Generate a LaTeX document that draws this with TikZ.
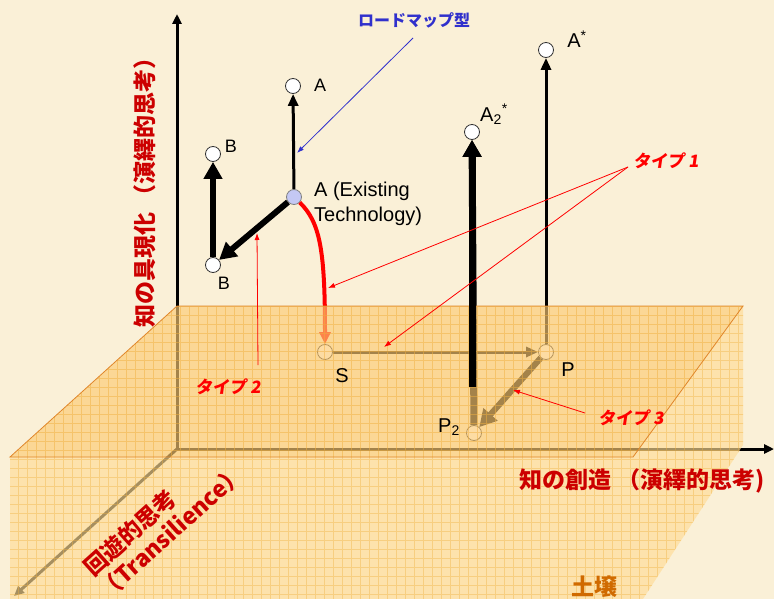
\documentclass[tikz,border=0pt]{standalone}
\usepackage{fontspec}
\setmainfont{Liberation Sans}
\newfontfamily\jp{Noto Sans CJK JP}
\newfontfamily\jpslant{Noto Sans CJK JP}[FakeSlant=0.15]
\usepackage{xcolor}
\usepackage{tikz}
\usetikzlibrary{arrows.meta}
\definecolor{cream}{HTML}{FAF0D7}
\definecolor{planefill}{HTML}{FDCA72}
\definecolor{soilfill}{HTML}{FFDC95}
\definecolor{gridline}{HTML}{F0B040}
\definecolor{edgeorange}{HTML}{E0862A}
\definecolor{labelred}{HTML}{CC0000}
\definecolor{typered}{HTML}{FF0000}
\definecolor{roadblue}{HTML}{3030CC}
\definecolor{soilorange}{HTML}{D06A00}
\definecolor{startblue}{HTML}{C4C8F4}

\begin{document}
\begin{tikzpicture}[x=1pt, y=-1pt,
        dot/.style={circle, draw=black!80, line width=0.8pt, fill=white,
            minimum size=15pt, inner sep=0pt},
        ptlabel/.style={font=\fontsize{18}{18}\selectfont, inner sep=1pt},
        biglabel/.style={font=\fontsize{20}{25}\selectfont, inner sep=1pt},
        axis/.style={line width=3pt, -{Triangle[length=10pt, width=9pt]}},
        move/.style={line width=3pt, -{Triangle[length=12pt, width=10pt]}},
        bigmove/.style={line width=6pt, -{Triangle[length=17pt, width=18pt]}},
        tag/.style={typered, line width=0.8pt, -{Latex[length=7pt, width=5pt]}},
        typelabel/.style={text=typered, font=\jpslant\bfseries\fontsize{17}{17}\selectfont},
        axislabel/.style={text=labelred, font=\jp\bfseries\fontsize{23}{27}\selectfont}]
        \useasboundingbox (0, 0) rectangle (774, 599);
        \fill[cream] (0, 0) rectangle (774, 599);

        \coordinate (o) at (177, 449);
        \coordinate (ytip) at (177, 14);
        \coordinate (xtip) at (774, 449);
        \coordinate (ztip) at (14, 596);
        \draw[axis] (o) -- (ytip);
        \draw[axis] (o) -- (xtip);
        \draw[axis] (o) -- (ztip);

        \node[dot] (atop) at (293, 86) {};
        \node[dot] (btop) at (213, 154) {};
        \node[dot] (bbot) at (213, 265) {};
        \node[dot, fill=startblue, draw=black!50] (aex) at (294, 197) {};
        \node[dot] (astar) at (546, 50) {};
        \node[dot] (a2star) at (472, 132) {};
        \node[dot] (s) at (325, 352) {};
        \node[dot] (p) at (546, 352) {};
        \node[dot] (p2) at (474, 433) {};

        \draw[move] (aex) -- (atop);
        \draw[bigmove] (aex) -- (bbot);
        \draw[bigmove] (bbot) -- (btop);
        \draw[typered, line width=4pt, -{Triangle[length=12pt, width=11pt]}] (aex) .. controls (320, 222) and (325, 250) .. (s);
        \draw[move] (s) -- (p);
        \draw[move] (p) -- (astar);
        \draw[bigmove] (p) -- (p2);
        \draw[bigmove, line width=7pt] (p2) -- (a2star);

        \fill[soilfill, fill opacity=0.65] (10, 457) -- (633, 457) -- (743, 306) -- (743, 445)
            -- (643, 599) -- (10, 599) -- cycle;
        \begin{scope}
            \clip (10, 457) -- (633, 457) -- (743, 306) -- (743, 445) -- (643, 599) -- (10, 599) -- cycle;
            \draw[gridline, opacity=0.4, line width=0.6pt, step=9pt] (0, 0) grid (774, 599);
        \end{scope}
        \fill[planefill, fill opacity=0.65] (177, 306) -- (743, 306) -- (633, 457) -- (10, 457) -- cycle;
        \begin{scope}
            \clip (177, 306) -- (743, 306) -- (633, 457) -- (10, 457) -- cycle;
            \draw[gridline, opacity=0.5, line width=0.6pt, step=9pt] (0, 0) grid (774, 599);
        \end{scope}
        \draw[edgeorange, line width=0.8pt] (177, 306) -- (743, 306) -- (633, 457) -- (10, 457) -- cycle;

        \coordinate (a2cut) at (472, 387);
        \draw[bigmove, line width=7pt] (a2cut) -- (a2star);

        \node[ptlabel] (atoplabel) at (320, 85) {A};
        \node[ptlabel] (btoplabel) at (231, 146) {B};
        \node[ptlabel] (bbotlabel) at (224, 283) {B};
        \node[biglabel, align=left, anchor=west] (aexlabel) at (313, 204) {A (Existing\\Technology)};
        \node[biglabel] (astarlabel) at (577, 39) {A\textsuperscript{*}};
        \node[biglabel] (a2starlabel) at (494, 114) {A\textsubscript{2}\textsuperscript{*}};
        \node[biglabel] (slabel) at (342, 376) {S};
        \node[biglabel] (plabel) at (568, 370) {P};
        \node[biglabel] (p2label) at (449, 427) {P\textsubscript{2}};

        \node[text=roadblue, font=\jp\bfseries\fontsize{16}{16}\selectfont] (roadmap) at (414, 20) {ロードマップ型};
        \node[typelabel] (type1) at (666, 161) {タイプ 1};
        \node[typelabel] (type2) at (228, 387) {タイプ 2};
        \node[typelabel] (type3) at (631, 418) {タイプ 3};

        \coordinate (roadfrom) at (413, 38);
        \coordinate (roadto) at (297, 153);
        \draw[roadblue, line width=0.8pt, -{Latex[length=7pt, width=5pt]}] (roadfrom) -- (roadto);
        \coordinate (t1from) at (628, 167);
        \coordinate (t1curve) at (328, 288);
        \coordinate (t1line) at (384, 347);
        \draw[tag] (t1from) -- (t1curve);
        \draw[tag] (t1from) -- (t1line);
        \coordinate (t2from) at (258, 365);
        \coordinate (t2to) at (257, 233);
        \draw[tag] (t2from) -- (t2to);
        \coordinate (t3from) at (585, 413);
        \coordinate (t3to) at (513, 390);
        \draw[tag] (t3from) -- (t3to);

        \node[axislabel, rotate=90] (ylabel) at (145, 187) {知の具現化 （演繹的思考）};
        \node[axislabel] (xlabel) at (642, 481) {知の創造 （演繹的思考)};
        \node[axislabel, rotate=42, align=left, inner sep=0pt] (zlabel) at (162, 522)
            {\hspace*{5pt}回遊的思考\\（Transilience）};
        \node[text=soilorange, font=\jp\bfseries\fontsize{23}{23}\selectfont] (soil) at (594, 587) {土壌};
\end{tikzpicture}
\end{document}
